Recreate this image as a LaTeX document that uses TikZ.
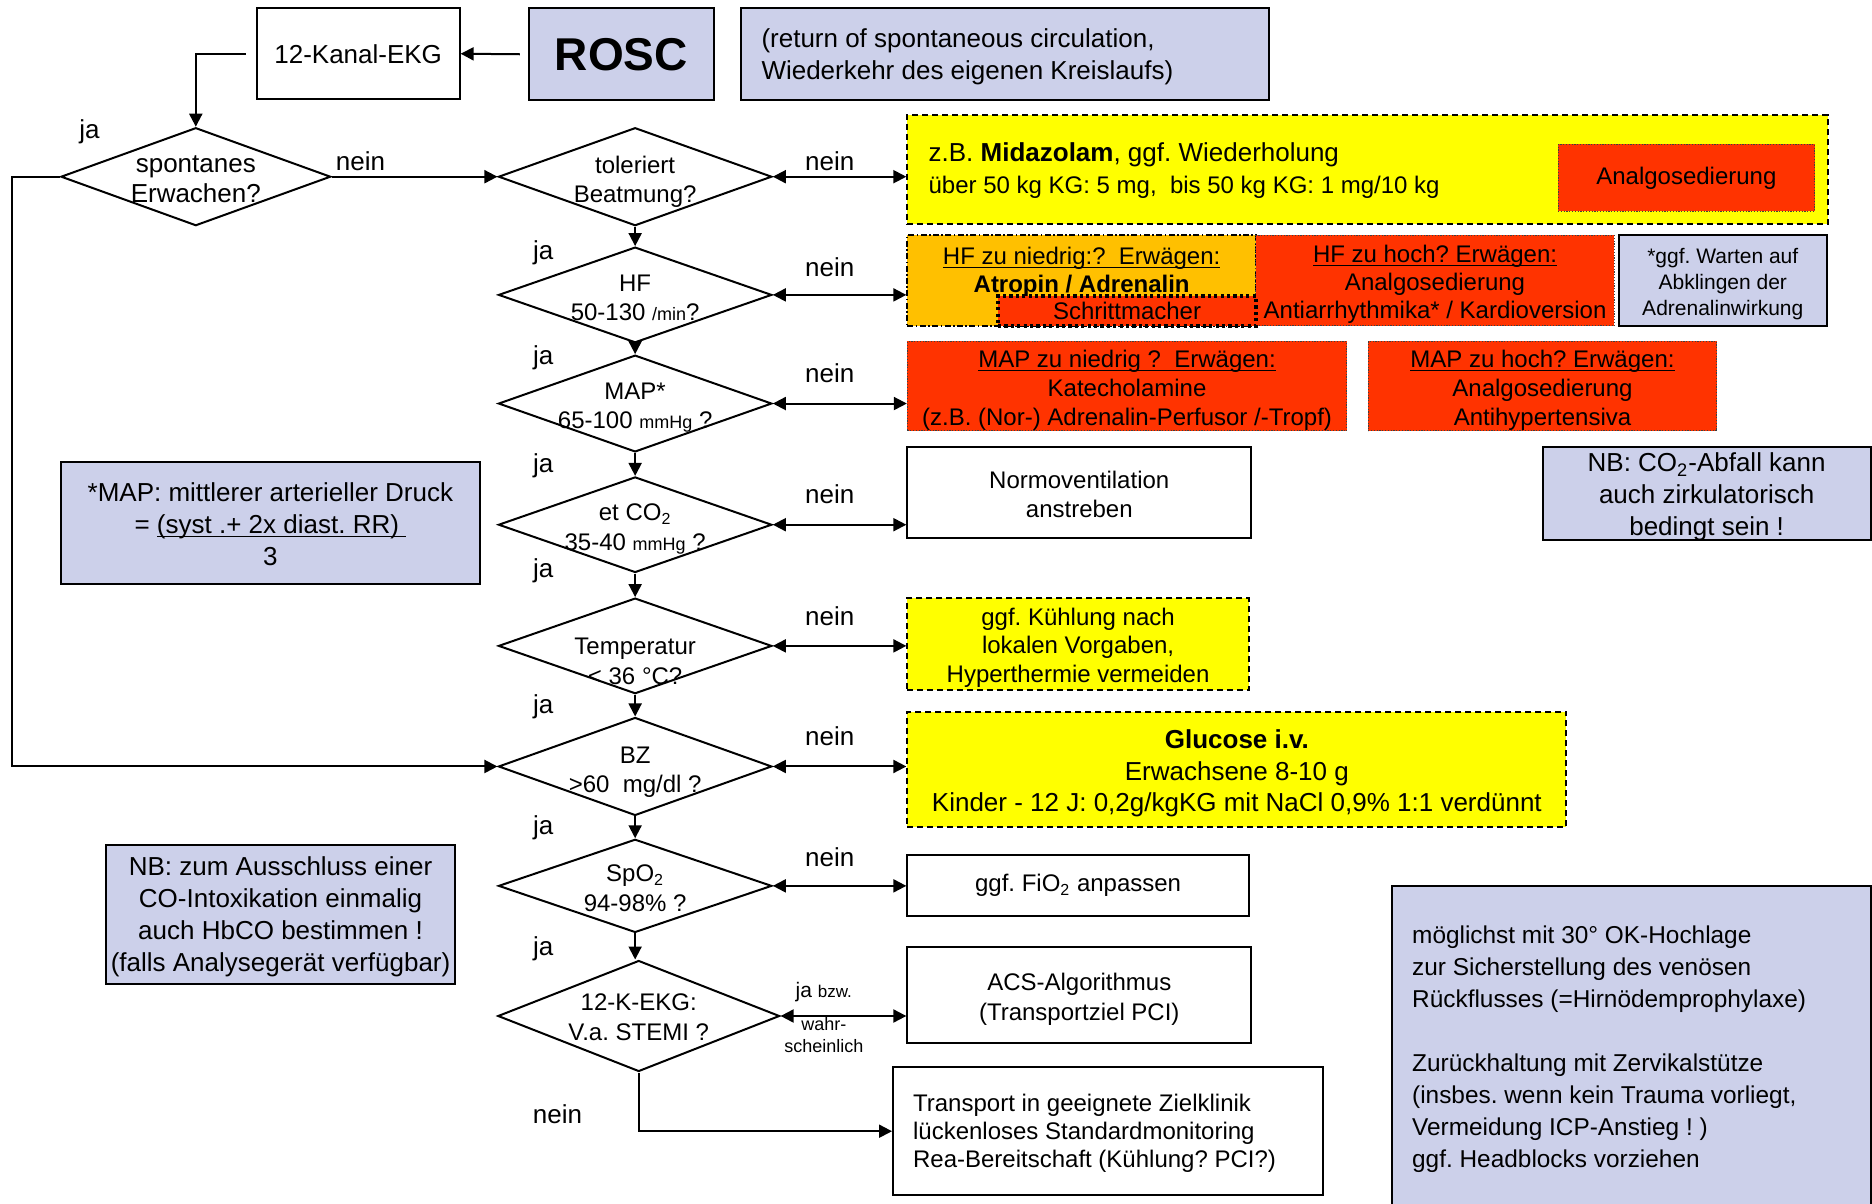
\documentclass[tikz,border=0pt]{standalone}
\usepackage{fontspec}
\setmainfont{Liberation Sans}
\usetikzlibrary{shapes.geometric,fit,arrows.meta}

\definecolor{lav}{RGB}{204,208,234}
\definecolor{yel}{RGB}{255,255,0}
\definecolor{org}{RGB}{255,192,0}
\definecolor{rd}{RGB}{255,51,0}

\newcommand\fA{\fontsize{13}{16}\selectfont}
\newcommand\fB{\fontsize{12}{14.3}\selectfont}
\newcommand\fD{\fontsize{12}{14.6}\selectfont}
\newcommand\fS{\fontsize{9}{11}\selectfont}

\tikzset{
  plainbox/.style={draw, fill=white, inner sep=0pt},
  notebox/.style={draw, fill=lav, inner sep=0pt},
  yelbox/.style={draw, fill=yel, dash pattern=on 3pt off 2pt, inner sep=0pt},
  orgbox/.style={draw, fill=org, dash pattern=on 3pt off 1.2pt on 0.8pt off 1.2pt, inner sep=0pt},
  redbox/.style={draw=black!75, fill=rd, line width=0.5pt, dash pattern=on 0.6pt off 0.8pt, inner sep=0pt},
  pacebox/.style={draw, fill=rd, line width=1.6pt, dash pattern=on 1.6pt off 1.6pt, inner sep=0pt},
  dia/.style={diamond, draw, inner sep=0pt, minimum width=136.7pt, minimum height=48.4pt},
  dtxt/.style={font=\fD, align=center, inner sep=0pt},
  lbl/.style={font=\fA, inner sep=0pt},
  btxt/.style={font=\fB, align=center, inner sep=0pt},
  flow/.style={-{Triangle[length=6.5pt,width=6.5pt]}},
  flowb/.style={{Triangle[length=6.5pt,width=6.5pt]}-{Triangle[length=6.5pt,width=6.5pt]}}
}

\begin{document}
\frenchspacing
\begin{tikzpicture}[x=0.597pt, y=-0.597pt, line width=1pt]
\useasboundingbox (0,0) rectangle (1568,1008);
\fill[white] (0,0) rectangle (1568,1008);

% header row
\node[plainbox, fit={(215,7)(385,83)}] (ekg) {};
\node[lbl] (ekgT) at (ekg.center) {12-Kanal-EKG};
\node[notebox, fit={(443,7)(598,84)}] (rosc) {};
\node[lbl, font=\fontsize{23}{28}\selectfont\bfseries] (roscT) at (rosc.center) {ROSC};
\node[notebox, fit={(621,7)(1063,84)}] (retbox) {};
\node[lbl, anchor=west, align=left] (rettxt) at (637,47.5) {(return of spontaneous circulation,\\Wiederkehr des eigenen Kreislaufs)};

% decision diamonds (sizes in pt: 0.597pt per unit)
\node[dia, minimum width=134.9pt, minimum height=49.0pt] (d0) at (164,148) {};
\node[dia, minimum height=49.0pt] (d1) at (532,148) {};
\node[dia, minimum height=47.8pt] (d2) at (532,247) {};
\node[dia, minimum height=48.4pt] (d3) at (532,338) {};
\node[dia, minimum height=47.8pt] (d4) at (532,439.5) {};
\node[dia, minimum height=47.8pt] (d5) at (532,541) {};
\node[dia, minimum height=49.0pt] (d6) at (532,642) {};
\node[dia, minimum height=46.6pt] (d7) at (532,742) {};
\node[dia, minimum width=140.9pt, minimum height=55.5pt] (d8) at (535,851) {};

\node[dtxt, font=\fontsize{13}{15}\selectfont] (t0) at (164,150) {spontanes\\Erwachen?};
\node[dtxt] (t1) at (532,152) {toleriert\\Beatmung?};
\node[dtxt] (t2) at (532,249.5) {HF\\50-130 {\fS/min}?};
\node[dtxt] (t3) at (532,341.5) {MAP*\\65-100 {\fS mmHg} ?};
\node[dtxt] (t4) at (532,443) {et CO\textsubscript{2}\\35-40 {\fS mmHg} ?};
\node[dtxt] (t5) at (532,554) {Temperatur\\< 36 °C?};
\node[dtxt] (t6) at (532,646.5) {BZ\\>60\ \ mg/dl ?};
\node[dtxt] (t7) at (532,744) {SpO\textsubscript{2}\\94-98\% ?};
\node[dtxt] (t8) at (535,852) {12-K-EKG:\\V.a. STEMI ?};

% sedation
\node[yelbox, fit={(760,96)(1531,188)}] (mid) {};
\node[lbl, anchor=west] (midA) at (777,130) {z.B. \textbf{Midazolam}, ggf. Wiederholung};
\node[lbl, anchor=west, font=\fB] (midB) at (777,157) {über 50 kg KG: 5 mg,\ \ bis 50 kg KG: 1 mg/10 kg};
\node[redbox, fit={(1305,121)(1520,177)}] (ana) {};
\node[btxt] (anaT) at (ana.center) {Analgosedierung};

% heart rate
\node[orgbox, fit={(760,197)(1052,273)}] (hflow) {};
\node[btxt, font=\fontsize{12}{14}\selectfont] (hflowT) at (906,228) {\underline{\raisebox{0pt}[\height][0pt]{HF zu niedrig:?\ \ Erwägen:}}\\\textbf{Atropin / Adrenalin}};
\node[redbox, fit={(1052,197)(1352,273)}] (hfhigh) {};
\node[btxt, font=\fontsize{12}{14}\selectfont, yshift=-1.8pt] (hfhighT) at (hfhigh.center) {\underline{\raisebox{0pt}[\height][0pt]{HF zu hoch? Erwägen:}}\\Analgosedierung\\Antiarrhythmika* / Kardioversion};
\node[pacebox, fit={(836,248)(1052,273)}] (pace) {};
\node[btxt] (paceT) at (pace.center) {Schrittmacher};
\node[notebox, fit={(1356,197)(1530,273)}] (hfnote) {};
\node[btxt, font=\fontsize{10.5}{12.8}\selectfont, yshift=-1.8pt] (hfnoteT) at (hfnote.center) {*ggf. Warten auf\\Abklingen der\\Adrenalinwirkung};

% blood pressure
\node[redbox, fit={(760,286)(1128,361)}] (maplow) {};
\node[btxt, yshift=-2pt] (maplowT) at (maplow.center) {\underline{\raisebox{0pt}[\height][0pt]{MAP zu niedrig ?\ \ Erwägen:}}\\Katecholamine\\(z.B. (Nor-) Adrenalin-Perfusor /-Tropf)};
\node[redbox, fit={(1146,286)(1438,361)}] (maphigh) {};
\node[btxt, yshift=-2pt] (maphighT) at (maphigh.center) {\underline{\raisebox{0pt}[\height][0pt]{MAP zu hoch? Erwägen:}}\\Analgosedierung\\Antihypertensiva};

% ventilation
\node[plainbox, fit={(760,374)(1048,451)}] (normo) {};
\node[btxt, yshift=-0.9pt] (normoT) at (normo.center) {Normoventilation\\anstreben};
\node[notebox, fit={(1292,374)(1567,452)}] (nbco) {};
\node[btxt, font=\fA, yshift=-2pt] (nbcoT) at (nbco.center) {NB: CO\textsubscript{2}-Abfall kann\\auch zirkulatorisch\\bedingt sein !};

% temperature, glucose, oxygen
\node[yelbox, fit={(760,501)(1046,578)}] (kuehl) {};
\node[btxt, yshift=-1.8pt] (kuehlT) at (kuehl.center) {ggf. Kühlung nach\\lokalen Vorgaben,\\Hyperthermie vermeiden};
\node[yelbox, fit={(760,596)(1312,693)}] (gluc) {};
\node[btxt, font=\fontsize{13}{15.8}\selectfont, yshift=-2pt] (glucT) at (gluc.center) {\textbf{Glucose i.v.}\\Erwachsene 8-10 g\\Kinder - 12 J: 0,2g/kgKG mit NaCl 0,9\% 1:1 verdünnt};
\node[plainbox, fit={(760,716)(1046,767)}] (fio) {};
\node[btxt] (fioT) at (fio.center) {ggf. FiO\textsubscript{2} anpassen};
\node[plainbox, fit={(760,793)(1048,874)}] (acs) {};
\node[btxt, font=\fontsize{12}{15}\selectfont, yshift=-2.3pt] (acsT) at (acs.center) {ACS-Algorithmus\\(Transportziel PCI)};
\node[plainbox, fit={(748,894)(1108,1001)}] (transp) {};
\node[lbl, anchor=west, align=left, font=\fontsize{12}{14}\selectfont] (transpT) at (764,949.5) {Transport in geeignete Zielklinik\\lückenloses Standardmonitoring\\Rea-Bereitschaft (Kühlung? PCI?)};

% positioning note
\node[notebox, fit={(1166,742)(1567,1020)}] (pos) {};
\node[lbl, anchor=west, align=left, font=\fontsize{12.2}{16}\selectfont] (posT) at (1182,879) {möglichst mit 30° OK-Hochlage\\zur Sicherstellung des venösen\\Rückflusses (=Hirnödemprophylaxe)\\[16pt]Zurückhaltung mit Zervikalstütze\\(insbes. wenn kein Trauma vorliegt,\\Vermeidung ICP-Anstieg ! )\\ggf. Headblocks vorziehen};

% left notes
\node[notebox, fit={(51,387)(402,489)}] (mapnote) {};
\node[btxt, font=\fA, yshift=-0.6pt] (mapnoteT) at (mapnote.center) {*MAP: mittlerer arterieller Druck\\= \underline{\raisebox{0pt}[\height][0pt]{(syst .+ 2x diast. RR)\ }}\\3};
\node[notebox, fit={(89,708)(381,824)}] (conote) {};
\node[btxt, font=\fA, yshift=-1.2pt] (conoteT) at (conote.center) {NB: zum Ausschluss einer\\CO-Intoxikation einmalig\\auch HbCO bestimmen !\\(falls Analysegerät verfügbar)};

% connectors
\draw[flow, shorten <=4pt] (rosc.west) -- (ekg.east);
\draw[flow, shorten <=5pt] (ekg.west) -| (d0.north);
\coordinate (loop) at (10,148);
\draw[flow] (d0.west) -- (loop) |- (d6.west);
\draw[flow] (d0.east) -- (d1.west);
\draw[flow] (d1.south) -- (d2.north);
\draw[flow] (d2.south) -- (d3.north);
\draw[flow] (d3.south) -- (d4.north);
\draw[flow] (d4.south) -- (d5.north);
\draw[flow] (d5.south) -- (d6.north);
\draw[flow] (d6.south) -- (d7.north);
\draw[flow] (d7.south) -- (d7.south |- d8.north);
\draw[flow] (d8.south) |- (transp.west);

\draw[flowb] (d1.east) -- (d1.east -| mid.west);
\draw[flowb] (d2.east) -- (d2.east -| hflow.west);
\draw[flowb] (d3.east) -- (d3.east -| maplow.west);
\draw[flowb] (d4.east) -- (d4.east -| normo.west);
\draw[flowb] (d5.east) -- (d5.east -| kuehl.west);
\draw[flowb] (d6.east) -- (d6.east -| gluc.west);
\draw[flowb] (d7.east) -- (d7.east -| fio.west);
\draw[flowb] (d8.east) -- (d8.east -| acs.west);

% branch labels
\node[lbl] (ja0) at (75,110) {ja};
\node[lbl] (nein0) at (302,135) {nein};
\node[lbl] (ja2) at (455,212) {ja};
\node[lbl] (ja3) at (455,300) {ja};
\node[lbl] (ja4) at (455,390) {ja};
\node[lbl] (ja5) at (455,478) {ja};
\node[lbl] (ja6) at (455,592) {ja};
\node[lbl] (ja7) at (455,693) {ja};
\node[lbl] (ja8) at (455,795) {ja};
\node[lbl] (nein1) at (695,135) {nein};
\node[lbl] (nein2) at (695,224) {nein};
\node[lbl] (nein3) at (695,313) {nein};
\node[lbl] (nein4) at (695,414) {nein};
\node[lbl] (nein5) at (695,516) {nein};
\node[lbl] (nein6) at (695,617) {nein};
\node[lbl] (nein7) at (695,718) {nein};
\node[lbl] (nein8) at (467,933) {nein};
\node[lbl, font=\fontsize{10.5}{12}\selectfont] (jabzw) at (690,831) {ja {\fontsize{8.5}{10}\selectfont bzw.}};
\node[lbl, font=\fontsize{9}{10.6}\selectfont, align=center] (wahr) at (690,867) {wahr-\\scheinlich};
\end{tikzpicture}
\end{document}
